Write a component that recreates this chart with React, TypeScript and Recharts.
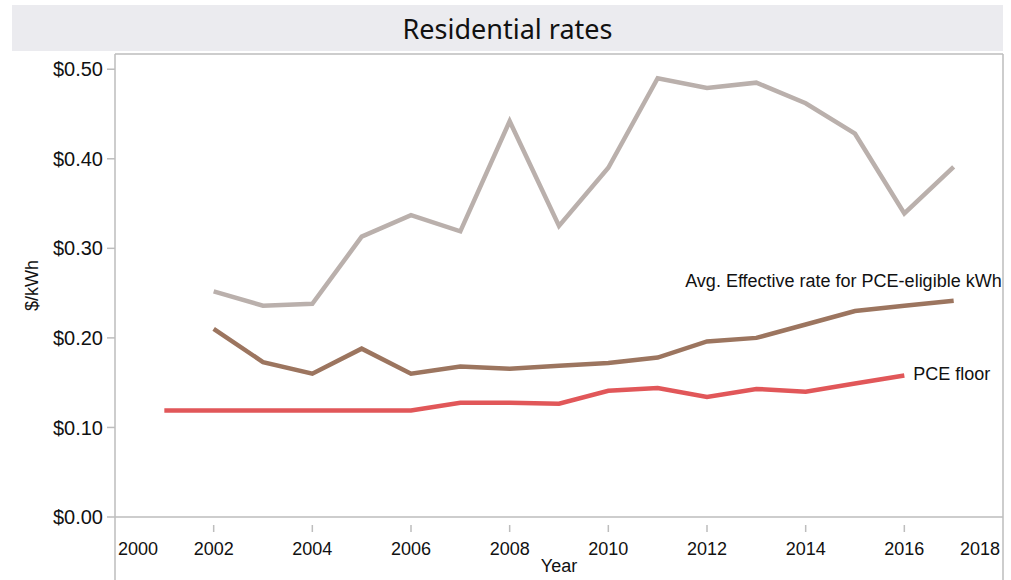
import React from "react";
import { LineChart, Line, XAxis, YAxis } from "recharts";

const years = [2001, 2002, 2003, 2004, 2005, 2006, 2007, 2008, 2009, 2010, 2011, 2012, 2013, 2014, 2015, 2016, 2017];

// $/kWh, null where the series has no value
const avgResidential = [null, 0.252, 0.236, 0.238, 0.313, 0.337, 0.319, 0.442, 0.325, 0.39, 0.49, 0.479, 0.485, 0.462, 0.428, 0.339, 0.391];
const avgEffective = [null, 0.21, 0.173, 0.16, 0.188, 0.16, 0.168, 0.1655, 0.169, 0.172, 0.178, 0.196, 0.2, 0.215, 0.23, 0.236, 0.2415];
const pceFloor = [0.119, 0.119, 0.119, 0.119, 0.119, 0.119, 0.1275, 0.1275, 0.1265, 0.141, 0.144, 0.134, 0.143, 0.14, 0.149, 0.158, null];

const xTicks = [2000, 2002, 2004, 2006, 2008, 2010, 2012, 2014, 2016, 2018];
const yTicks = [0, 0.1, 0.2, 0.3, 0.4, 0.5];

const data = years.map((year, i) => ({
  year,
  residential: avgResidential[i],
  effective: avgEffective[i],
  floor: pceFloor[i],
}));

const FONT = '"Liberation Sans", Arial, sans-serif';
const AXIS_GRAY = "#bdbdbd";

const XTick = (props: any) => {
  const { x, y, payload } = props;
  const v = payload.value;
  const first = v === xTicks[0];
  const last = v === xTicks[xTicks.length - 1];
  const anchor = first ? "start" : last ? "end" : "middle";
  const dx = first ? 3 : last ? -3 : 0;
  return (
    <g>
      {!first && !last && (
        <line x1={x} x2={x} y1={y} y2={y + 7} stroke={AXIS_GRAY} strokeWidth={1.5} />
      )}
      <text x={x + dx} y={y + 30} textAnchor={anchor} fontSize={18} fill="#111" fontFamily={FONT}>
        {v}
      </text>
    </g>
  );
};

const endLabel = (text: string, idx: number, dx: number, dy: number, anchor: string) => (props: any) => {
  const { x, y, index } = props;
  if (index !== idx) return null;
  return (
    <text
      x={x + dx}
      y={y + dy}
      textAnchor={anchor}
      dominantBaseline="middle"
      fontSize={18}
      fill="#111"
      fontFamily={FONT}
    >
      {text}
    </text>
  );
};

export default function App() {
  return (
    <div style={{ position: "absolute", left: 0, top: 0, width: 1011, height: 580, background: "#fff", fontFamily: FONT }}>
      <div
        style={{
          position: "absolute",
          left: 12,
          top: 5,
          width: 991,
          height: 46,
          background: "#ebebef",
          display: "flex",
          alignItems: "center",
          justifyContent: "center",
          fontFamily: '"Noto Sans", sans-serif',
          fontSize: 27,
          color: "#111",
        }}
      >
        Residential rates
      </div>
      <LineChart
        width={1011}
        height={580}
        data={data}
        margin={{ top: 54, right: 8, left: 30, bottom: 0 }}
        style={{ position: "absolute", left: 0, top: 0 }}
      >
        <XAxis
          dataKey="year"
          type="number"
          domain={[2000, 2018]}
          ticks={xTicks}
          interval={0}
          height={63}
          axisLine={{ stroke: AXIS_GRAY, strokeWidth: 1.5 }}
          tickLine={false}
          tick={<XTick />}
          label={{ value: "Year", position: "insideBottom", offset: 8, fontSize: 18, fill: "#111", fontFamily: FONT }}
        />
        <YAxis
          type="number"
          domain={[0, 0.517]}
          ticks={yTicks}
          interval={0}
          width={85}
          allowDataOverflow
          axisLine={{ stroke: AXIS_GRAY, strokeWidth: 1.5 }}
          tickLine={{ stroke: AXIS_GRAY, strokeWidth: 1.5 }}
          tickSize={8}
          tickMargin={4}
          tickFormatter={(v: number) => `$${v.toFixed(2)}`}
          tick={{ fontSize: 20, fill: "#111", fontFamily: FONT }}
          label={{
            value: "$/kWh",
            angle: -90,
            position: "insideLeft",
            offset: 2,
            fontSize: 18,
            fill: "#111",
            fontFamily: FONT,
            style: { textAnchor: "middle" },
          }}
        />
        <Line
          dataKey="residential"
          stroke="#bab0ac"
          strokeWidth={4.5}
          dot={false}
          activeDot={false}
          isAnimationActive={false}
        />
        <Line
          dataKey="effective"
          stroke="#9c755f"
          strokeWidth={4.5}
          dot={false}
          activeDot={false}
          isAnimationActive={false}
          label={endLabel("Avg. Effective rate for PCE-eligible kWh", 16, 48, -18, "end")}
        />
        <Line
          dataKey="floor"
          stroke="#e15759"
          strokeWidth={4.5}
          dot={false}
          activeDot={false}
          isAnimationActive={false}
          label={endLabel("PCE floor", 15, 9, 0, "start")}
        />
      </LineChart>
      <svg width={1011} height={580} style={{ position: "absolute", left: 0, top: 0, pointerEvents: "none" }}>
        <line x1={115} x2={1003} y1={54} y2={54} stroke={AXIS_GRAY} strokeWidth={1.5} />
        <line x1={1003} x2={1003} y1={54} y2={580} stroke={AXIS_GRAY} strokeWidth={1.5} />
        <line x1={115} x2={115} y1={517} y2={580} stroke={AXIS_GRAY} strokeWidth={1.5} />
      </svg>
    </div>
  );
}
